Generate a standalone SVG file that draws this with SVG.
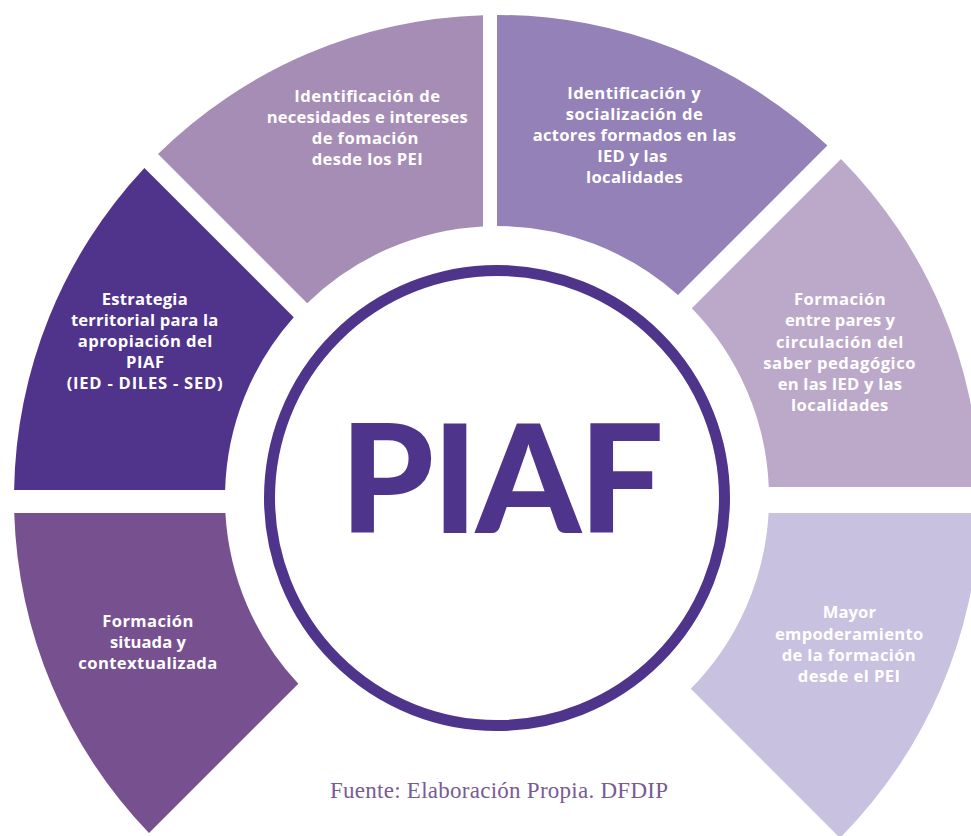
<svg xmlns="http://www.w3.org/2000/svg" width="971" height="836" viewBox="0 0 971 836">
<style>
.lbl{font-family:"Open Sans","Lato","Liberation Sans",sans-serif;font-weight:700;font-size:16.6px;fill:#ffffff}
.piaf{font-family:"Lato","Open Sans","Liberation Sans",sans-serif;font-weight:900;font-size:150px;fill:#4F348C}
.src{font-family:"Liberation Serif","DejaVu Serif",serif;font-size:23px;fill:#7A5A95}
</style>
<rect width="971" height="836" fill="#ffffff"/>
<g id="seg-necesidades">
<path d="M483,15.2 L483,226.4 A272,272 0 0 0 307.2,303.2 L158,154 A483,483 0 0 1 483,15.2 Z" fill="#A68DB5"/>
<text class="lbl"><tspan x="294.3" y="102" textLength="145.7">Identificación de</tspan><tspan x="266.7" y="123" textLength="201">necesidades e intereses</tspan><tspan x="311.7" y="144" textLength="106.7">de fomación</tspan><tspan x="311.7" y="165" textLength="111">desde los PEI</tspan></text>
</g>
<g id="seg-actores">
<path d="M497,15 A483,483 0 0 1 827.4,145.6 L678,295 A272,272 0 0 0 497,226 Z" fill="#9381B8"/>
<text class="lbl"><tspan x="567.3" y="98.5" textLength="133.3">Identificación y</tspan><tspan x="565.7" y="119.5" textLength="137">socialización de</tspan><tspan x="532.7" y="140.5" textLength="203.3">actores formados en las</tspan><tspan x="597.3" y="161.5" textLength="70">IED y las</tspan><tspan x="586" y="182.5" textLength="96.7">localidades</tspan></text>
</g>
<g id="seg-pares">
<path d="M841,159 A483,483 0 0 1 979.9,487 L768.8,487 A272,272 0 0 0 691.8,308.2 Z" fill="#BCA9C9"/>
<text class="lbl"><tspan x="794" y="305" textLength="91.7">Formación</tspan><tspan x="785" y="326" textLength="110">entre pares y</tspan><tspan x="776" y="347.5" textLength="127.3">circulación del</tspan><tspan x="763.3" y="369" textLength="152.3">saber pedagógico</tspan><tspan x="777.7" y="390" textLength="124.3">en las IED y las</tspan><tspan x="791" y="411" textLength="97.3">localidades</tspan></text>
</g>
<g id="seg-empoderamiento">
<path d="M768.6,513 L979.8,513 A483,483 0 0 1 840,838 L690.8,688.8 A272,272 0 0 0 768.6,513 Z" fill="#C8C1DF"/>
<text class="lbl"><tspan x="822.7" y="618" textLength="53.3">Mayor</tspan><tspan x="775" y="639.5" textLength="148.3">empoderamiento</tspan><tspan x="781.7" y="660.5" textLength="134">de la formación</tspan><tspan x="797.7" y="681.5" textLength="102.3">desde el PEI</tspan></text>
</g>
<g id="seg-situada">
<path d="M14.2,513 L225.4,513 A272,272 0 0 0 298.3,683.7 L149,833 A483,483 0 0 1 14.2,513 Z" fill="#77508F"/>
<text class="lbl"><tspan x="102.3" y="627" textLength="91">Formación</tspan><tspan x="110" y="648" textLength="76">situada y</tspan><tspan x="78.3" y="669" textLength="139">contextualizada</tspan></text>
</g>
<g id="seg-estrategia">
<path d="M144.4,167.9 L293.75,317.25 A272,272 0 0 0 225.1,490 L14.1,490 A483,483 0 0 1 144.4,167.9 Z" fill="#50348C"/>
<text class="lbl"><tspan x="101.7" y="305" textLength="86">Estrategia</tspan><tspan x="71" y="326" textLength="147.3">territorial para la</tspan><tspan x="77.7" y="347" textLength="134.7">apropiación del</tspan><tspan x="126" y="368" textLength="38">PIAF</tspan><tspan x="66.7" y="389" textLength="156">(IED - DILES - SED)</tspan></text>
</g>
<g id="center-piaf">
<circle cx="497" cy="498" r="227.5" fill="#ffffff" stroke="#4F348C" stroke-width="11"/>
<text class="piaf" x="340" y="533" textLength="324">PIAF</text>
</g>
<g id="source">
<text class="src" x="330" y="798" textLength="338">Fuente: Elaboración Propia. DFDIP</text>
</g>
</svg>
